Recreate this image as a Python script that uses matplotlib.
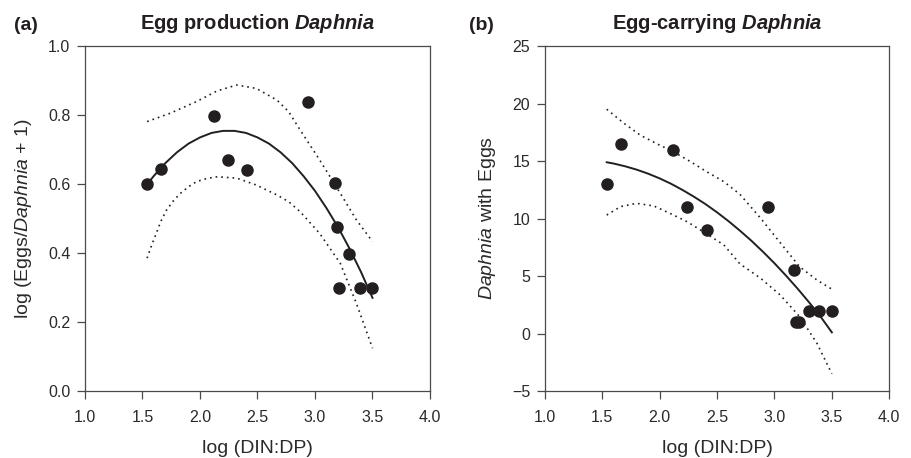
import matplotlib
matplotlib.use('Agg')
import matplotlib.pyplot as plt

plt.rcParams['font.family'] = ['Liberation Sans', 'DejaVu Sans']
plt.rcParams['mathtext.fontset'] = 'custom'
plt.rcParams['mathtext.rm'] = 'Liberation Sans'
plt.rcParams['mathtext.it'] = 'Liberation Sans:italic'
plt.rcParams['mathtext.bf'] = 'Liberation Sans:bold'
plt.rcParams['mathtext.bfit'] = 'Liberation Sans:italic:bold'

# ---- data ----
din_dp = [1.54, 1.66, 2.12, 2.24, 2.41, 2.94, 3.17, 3.19, 3.21, 3.30, 3.39, 3.50]
eggs_per_daphnia = [0.600, 0.643, 0.797, 0.669, 0.642, 0.839, 0.602, 0.476, 0.300, 0.397, 0.300, 0.300]
daphnia_with_eggs = [13.0, 16.5, 16.0, 11.0, 9.0, 11.0, 5.5, 1.0, 1.0, 2.0, 2.0, 2.0]

fit_x = [1.54, 1.6, 1.7, 1.8, 1.9, 2.0, 2.1, 2.2, 2.3, 2.4, 2.5,
         2.6, 2.7, 2.8, 2.9, 3.0, 3.1, 3.2, 3.3, 3.4, 3.5]
fit_a = [0.599, 0.624, 0.661, 0.692, 0.717, 0.735, 0.748, 0.754, 0.754, 0.748, 0.735,
         0.717, 0.692, 0.661, 0.623, 0.580, 0.530, 0.475, 0.413, 0.345, 0.270]
fit_b = [14.89, 14.78, 14.54, 14.25, 13.90, 13.49, 13.02, 12.48, 11.89, 11.25, 10.54,
         9.77, 8.94, 8.06, 7.11, 6.11, 5.04, 3.92, 2.73, 1.49, 0.10]

upper_a_x = [1.54, 1.74, 1.97, 2.15, 2.32, 2.49, 2.67, 2.77, 2.87, 3.04, 3.22, 3.36, 3.50]
upper_a_y = [0.781, 0.805, 0.839, 0.870, 0.887, 0.877, 0.843, 0.810, 0.757, 0.670, 0.573, 0.496, 0.433]
lower_a_x = [1.54, 1.58, 1.62, 1.66, 1.71, 1.77, 1.83, 1.90, 1.97, 2.06, 2.15, 2.32, 2.49, 2.67, 2.77, 2.87, 3.04, 3.22, 3.36, 3.50]
lower_a_y = [0.385, 0.423, 0.457, 0.492, 0.525, 0.552, 0.573, 0.592, 0.607, 0.616, 0.621, 0.617, 0.597, 0.568, 0.549, 0.520, 0.457, 0.370, 0.254, 0.124]

upper_b_x = [1.54, 1.69, 1.83, 1.98, 2.12, 2.27, 2.41, 2.56, 2.70, 2.88, 3.05, 3.22, 3.37, 3.50]
upper_b_y = [19.5, 18.28, 17.26, 16.48, 15.81, 14.94, 14.07, 13.2, 12.1, 10.02, 7.9, 5.8, 4.65, 3.85]
lower_b_x = [1.54, 1.66, 1.80, 1.95, 2.09, 2.24, 2.38, 2.56, 2.70, 2.88, 3.05, 3.22, 3.37, 3.50]
lower_b_y = [10.3, 11.03, 11.32, 11.09, 10.45, 9.72, 8.85, 7.70, 6.05, 4.80, 3.35, 1.46, -0.85, -3.5]

x_ticks = [1.0, 1.5, 2.0, 2.5, 3.0, 3.5, 4.0]
a_yticks = [0.0, 0.2, 0.4, 0.6, 0.8, 1.0]
b_yticks = [-5, 0, 5, 10, 15, 20, 25]

ink = '#231f20'
spine_col = '#4a4a4a'

fig = plt.figure(figsize=(9.12, 4.58), dpi=100)
ax_a = fig.add_axes([85/912, 1-391/458, 345/912, 345/458])
ax_b = fig.add_axes([544.7/912, 1-391/458, 344.6/912, 345/458])

def style(ax):
    for s in ax.spines.values():
        s.set_color(spine_col)
        s.set_linewidth(0.9)
    ax.tick_params(axis='both', direction='out', length=5.5, width=0.9, color=spine_col,
                   labelsize=11.5, labelcolor='#2a2a2a', top=False, right=False)
    ax.tick_params(axis='x', pad=8)
    ax.tick_params(axis='y', pad=5)
    ax.set_xlim(1.0, 4.0)
    ax.set_xticks(x_ticks)
    ax.set_xticklabels([f'{v:.1f}' for v in x_ticks])
    ax.set_xlabel('log (DIN:DP)', fontsize=14, color='#2a2a2a', labelpad=11)

dots = (0, (1, 2.4))

# Panel (a)
style(ax_a)
ax_a.set_ylim(0.0, 1.0)
ax_a.set_yticks(a_yticks)
ax_a.set_yticklabels([f'{v:.1f}' for v in a_yticks])
ax_a.plot(upper_a_x, upper_a_y, ls=dots, lw=1.2, color=ink)
ax_a.plot(lower_a_x, lower_a_y, ls=dots, lw=1.2, color=ink)
ax_a.plot(fit_x, fit_a, '-', lw=1.4, color=ink)
ax_a.plot(din_dp, eggs_per_daphnia, 'o', ms=8.0, color=ink, mec=ink, zorder=5)
ax_a.set_ylabel(r'log (Eggs/$\mathit{Daphnia}$ + 1)', fontsize=14, color='#2a2a2a', labelpad=10)
ax_a.set_title(r'Egg production $\mathbfit{Daphnia}$', fontsize=14.5, fontweight='bold',
               color=ink, pad=12)

# Panel (b)
style(ax_b)
ax_b.set_ylim(-5, 25)
ax_b.set_yticks(b_yticks)
ax_b.plot(upper_b_x, upper_b_y, ls=dots, lw=1.2, color=ink)
ax_b.plot(lower_b_x, lower_b_y, ls=dots, lw=1.2, color=ink)
ax_b.plot(fit_x, fit_b, '-', lw=1.4, color=ink)
ax_b.plot(din_dp, daphnia_with_eggs, 'o', ms=8.0, color=ink, mec=ink, zorder=5)
ax_b.set_ylabel(r'$\mathit{Daphnia}$ with Eggs', fontsize=14, color='#2a2a2a', labelpad=10)
ax_b.set_title(r'Egg-carrying $\mathbfit{Daphnia}$', fontsize=14.5, fontweight='bold',
               color=ink, pad=12)

fig.text(14/912, 1-25/458, '(a)', fontsize=14, fontweight='bold', color=ink, va='center', ha='left')
fig.text(469/912, 1-25/458, '(b)', fontsize=14, fontweight='bold', color=ink, va='center', ha='left')

fig.savefig('out.png', dpi=100)
